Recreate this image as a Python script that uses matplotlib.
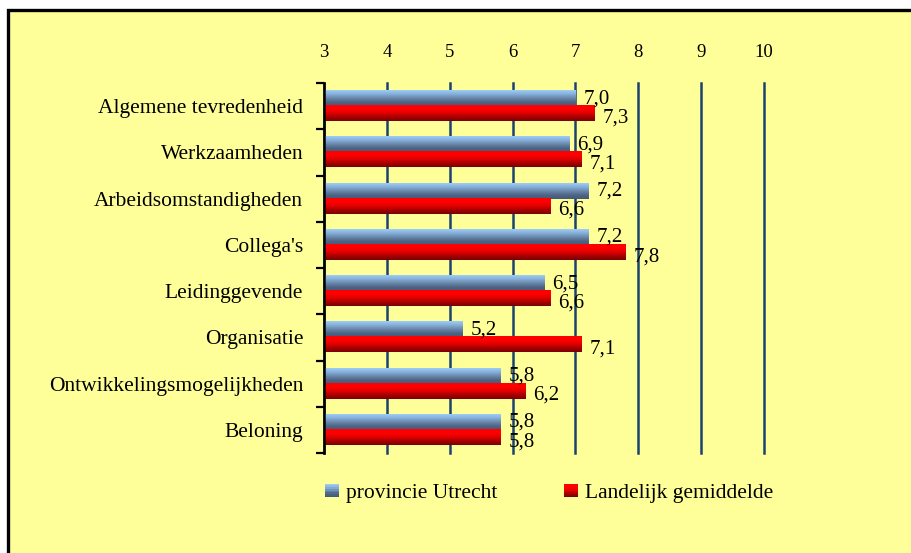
import numpy as np
import matplotlib
matplotlib.use('Agg')
import matplotlib.pyplot as plt
from matplotlib.colors import LinearSegmentedColormap
from matplotlib.patches import Rectangle
from matplotlib.legend_handler import HandlerBase

categories = ['Algemene tevredenheid', 'Werkzaamheden', 'Arbeidsomstandigheden',
              "Collega's", 'Leidinggevende', 'Organisatie',
              'Ontwikkelingsmogelijkheden', 'Beloning']
utrecht = [7.0, 6.9, 7.2, 7.2, 6.5, 5.2, 5.8, 5.8]
landelijk = [7.3, 7.1, 6.6, 7.8, 6.6, 7.1, 6.2, 5.8]
series_names = ['provincie Utrecht', 'Landelijk gemiddelde']
xticks = [3, 4, 5, 6, 7, 8, 9, 10]

bg = '#FFFF99'
grid_col = '#1b426e'
font = 'Liberation Serif'

# top -> bottom colour stops
blue_cmap = LinearSegmentedColormap.from_list('b', ['#9ccdfa', '#86afd9', '#6a88ab', '#4f6686', '#44587a'])
red_cmap = LinearSegmentedColormap.from_list('r', ['#ff0000', '#ff0000', '#e00000', '#a80000', '#780000'])

fig = plt.figure(figsize=(9.12, 5.53), dpi=100, facecolor='white')
fig.patches.append(Rectangle((8 / 912, -0.05), 1.1, 1 - 10 / 553 + 0.05, transform=fig.transFigure,
                             facecolor=bg, edgecolor='black', linewidth=2.4, zorder=-10))

ax = fig.add_axes([324 / 912, 1 - 453 / 553, 440 / 912, 370 / 553])
ax.set_facecolor('none')

y = np.arange(len(categories))
h = 0.326
grad = np.linspace(0, 1, 64).reshape(-1, 1)

def gradient_bars(bars, cmap):
    for b in bars:
        x0, y0, w, hh = b.get_x(), b.get_y(), b.get_width(), b.get_height()
        # inverted y axis: y0 is the top edge on screen
        ax.imshow(grad, cmap=cmap, extent=(x0, x0 + w, y0 + hh, y0), aspect='auto',
                  origin='upper', zorder=3, interpolation='bilinear')
        b.set_visible(False)

b1 = ax.barh(y - h / 2, np.array(utrecht) - 3, left=3, height=h)
b2 = ax.barh(y + h / 2, np.array(landelijk) - 3, left=3, height=h)
gradient_bars(b1, blue_cmap)
gradient_bars(b2, red_cmap)

for yi, v in zip(y - h / 2, utrecht):
    ax.annotate(f'{v:.1f}'.replace('.', ','), (v, yi), xytext=(6, 0), textcoords='offset points',
                ha='left', va='center', fontsize=15, family=font, zorder=5)
for yi, v in zip(y + h / 2, landelijk):
    ax.annotate(f'{v:.1f}'.replace('.', ','), (v, yi), xytext=(6, -3), textcoords='offset points',
                ha='left', va='center', fontsize=15, family=font, zorder=5)

ax.set_xlim(3, 10)
ax.set_ylim(len(categories) - 0.5, -0.5)

ax.xaxis.tick_top()
ax.set_xticks(xticks)
ax.set_xticklabels([str(t) for t in xticks], family=font, fontsize=13.5)
ax.tick_params(axis='x', length=0, pad=16)
ax.grid(axis='x', color=grid_col, linewidth=1.8, zorder=1)
for gl in ax.get_xgridlines():
    gl.set_clip_on(False)
ax.set_axisbelow(True)

ax.set_yticks(np.arange(len(categories) + 1) - 0.5)
ax.set_yticklabels([])
ax.tick_params(axis='y', which='major', length=6, width=1.6, color='black', direction='out')
ax.set_yticks(y, minor=True)
ax.set_yticklabels(categories, minor=True, family=font, fontsize=15.5)
ax.tick_params(axis='y', which='minor', length=0, pad=15)

for s in ['top', 'right', 'bottom']:
    ax.spines[s].set_visible(False)
ax.spines['left'].set_linewidth(1.8)
ax.spines['left'].set_zorder(4)


class GradHandler(HandlerBase):
    def __init__(self, cmap):
        super().__init__()
        self.cmap = cmap

    def create_artists(self, legend, orig_handle, xdescent, ydescent, width, height, fontsize, trans):
        n = 8
        side = min(width, height)
        arts = []
        for i in range(n):
            c = self.cmap(1 - i / (n - 1))
            arts.append(Rectangle((-xdescent, -ydescent + side * i / n), side, side / n,
                                  facecolor=c, edgecolor='none', transform=trans))
        return arts


hb = Rectangle((0, 0), 1, 1)
hr = Rectangle((0, 0), 1, 1)
fig.legend([hb, hr], series_names, loc='center left', bbox_to_anchor=(306 / 912, 1 - 493 / 553),
           ncol=2, frameon=False, prop={'family': font, 'size': 15.5},
           handler_map={hb: GradHandler(blue_cmap), hr: GradHandler(red_cmap)},
           handlelength=0.62, handleheight=0.62, handletextpad=0.35, columnspacing=3.1)

fig.savefig('out.png', dpi=100, facecolor='white')
